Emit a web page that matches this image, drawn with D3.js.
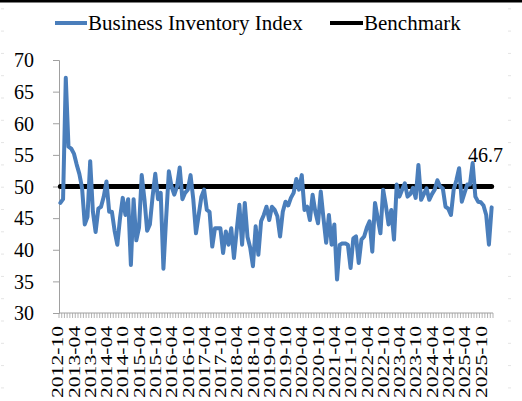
<!DOCTYPE html>
<html lang="en">
<head>
<meta charset="utf-8">
<script src="https://cdn.jsdelivr.net/npm/d3@7"></script>
<style>
  body { margin: 0; background: #fff; }
  svg text { font-family: "Liberation Serif", "Times New Roman", serif; fill: #000; }
</style>
</head>
<body>
<div id="graph"></div>
<script>
// monthly categories, 2012-10 .. 2026-01
var startYear = 2012, startMonth = 10, nMonths = 160;
var months = d3.range(nMonths).map(function (i) {
  var m = startMonth - 1 + i;
  return (startYear + Math.floor(m / 12)) + "-" + String(m % 12 + 1).padStart(2, "0");
});

var tickLabels = ["2012-10","2013-04","2013-10","2014-04","2014-10","2015-04","2015-10",
  "2016-04","2016-10","2017-04","2017-10","2018-04","2018-10","2019-04","2019-10",
  "2020-04","2020-10","2021-04","2021-10","2022-04","2022-10","2023-04","2023-10",
  "2024-04","2024-10","2025-04","2025-10"];

var inventory = [
  47.4, 48.0, 67.2, 56.3, 56.0, 55.2, 53.5, 52.0, 49.8, 44.0,
  45.2, 54.0, 46.0, 42.8, 46.5, 46.8, 48.4, 50.8, 46.0, 46.0,
  43.0, 40.8, 45.0, 48.2, 45.5, 48.0, 37.6, 48.0, 41.5, 43.5,
  51.8, 48.0, 43.0, 44.0, 48.4, 52.0, 48.0, 49.0, 37.0, 45.0,
  52.4, 50.0, 48.7, 50.0, 53.0, 48.0, 49.0, 49.5, 51.8, 48.0,
  42.6, 45.5, 48.4, 49.5, 46.3, 46.0, 40.5, 43.4, 43.4, 43.4,
  39.5, 42.9, 40.8, 43.4, 38.7, 43.0, 47.1, 40.8, 47.4, 42.0,
  40.3, 37.4, 43.7, 39.2, 44.5, 45.5, 46.8, 44.7, 46.8, 46.3,
  45.3, 42.1, 46.0, 47.6, 47.0, 48.2, 49.0, 51.2, 49.5, 51.8,
  46.3, 46.8, 44.7, 48.7, 46.0, 44.2, 49.2, 45.0, 41.1, 45.5,
  40.8, 44.0, 35.3, 40.8, 41.0, 41.0, 40.8, 37.1, 41.8, 42.1,
  37.9, 41.6, 42.1, 43.5, 44.5, 39.7, 47.4, 45.0, 42.6, 49.5,
  47.0, 44.0, 46.3, 41.6, 50.3, 48.4, 49.5, 50.5, 48.4, 48.8,
  49.8, 48.2, 53.4, 47.9, 48.8, 49.7, 47.9, 48.8, 49.5, 51.0,
  50.0, 49.7, 46.8, 46.5, 45.5, 49.5, 51.0, 52.9, 47.6, 49.0,
  50.3, 50.3, 53.7, 48.4, 47.6, 47.5, 47.0, 45.5, 40.8, 46.7
];

var benchmark = 50;
var yTicks = [30, 35, 40, 45, 50, 55, 60, 65, 70];
var seriesNames = ["Business Inventory Index", "Benchmark"];

var W = 522, H = 401;
var plotLeft = 59, plotRight = 493, plotTop = 60, plotBottom = 313;

var svg = d3.select("#graph").append("svg")
  .attr("width", W).attr("height", H);

// frame edge at top
svg.append("rect").attr("x", 0).attr("y", 0).attr("width", W).attr("height", 2.5).attr("fill", "#000");

// faint edge marks
d3.range(8.3, H, 22.3).forEach(function (yy) {
  svg.append("rect").attr("x", 1).attr("y", yy).attr("width", 3).attr("height", 1).attr("fill", "#e4e4e4");
  svg.append("rect").attr("x", 508).attr("y", yy).attr("width", 3).attr("height", 1).attr("fill", "#e4e4e4");
});

var x = d3.scaleBand().domain(months).range([plotLeft, plotRight]).padding(0);
var y = d3.scaleLinear().domain([30, 70]).range([plotBottom, plotTop]);
var cx = function (m) { return x(m) + x.bandwidth() / 2; };

// Y axis
var yAxis = svg.append("g").attr("transform", "translate(" + plotLeft + ",0)")
  .call(d3.axisLeft(y).tickValues(yTicks).tickSize(6).tickPadding(19));
yAxis.select(".domain").attr("stroke", "#a0a0a0");
yAxis.selectAll(".tick line").attr("stroke", "#a0a0a0");
yAxis.selectAll(".tick text").attr("font-size", "20px").attr("font-family", "Liberation Serif").attr("dy", "0.34em");

// X axis: line + a tick at each category boundary
svg.append("line").attr("x1", plotLeft).attr("x2", plotRight).attr("y1", plotBottom).attr("y2", plotBottom)
  .attr("stroke", "#a0a0a0");
svg.append("g").selectAll("line")
  .data(months.concat(["end"]))
  .enter().append("line")
    .attr("x1", function (d) { return d === "end" ? plotRight : x(d); })
    .attr("x2", function (d) { return d === "end" ? plotRight : x(d); })
    .attr("y1", plotBottom).attr("y2", plotBottom + 5)
    .attr("stroke", "#a0a0a0").attr("stroke-width", 0.8);

svg.append("g").selectAll("text")
  .data(tickLabels)
  .enter().append("text")
    .attr("transform", function (d) { return "translate(" + (cx(d) + 3) + "," + (plotBottom + 13) + ") rotate(-90)"; })
    .attr("text-anchor", "end")
    .attr("font-size", "16px")
    .attr("textLength", 72)
    .attr("lengthAdjust", "spacingAndGlyphs")
    .text(function (d) { return d; });

// benchmark line
svg.append("line")
  .attr("x1", cx(months[0])).attr("x2", cx(months[nMonths - 1]))
  .attr("y1", y(benchmark)).attr("y2", y(benchmark))
  .attr("stroke", "#000").attr("stroke-width", 5).attr("stroke-linecap", "round");

// inventory series
var line = d3.line()
  .x(function (d, i) { return cx(months[i]); })
  .y(function (d) { return y(d); });
svg.append("path")
  .datum(inventory)
  .attr("fill", "none")
  .attr("stroke", "#4a7ebb")
  .attr("stroke-width", 4)
  .attr("stroke-linejoin", "round")
  .attr("stroke-linecap", "round")
  .attr("d", line);

// last value label
svg.append("text")
  .attr("x", 503).attr("y", 162)
  .attr("text-anchor", "end")
  .attr("font-size", "20px")
  .text(inventory[nMonths - 1].toFixed(1));

// legend
var legend = svg.append("g");
legend.append("line").attr("x1", 55).attr("x2", 87).attr("y1", 23).attr("y2", 23)
  .attr("stroke", "#4a7ebb").attr("stroke-width", 4);
legend.append("text").attr("x", 88).attr("y", 30).attr("font-size", "21px").text(seriesNames[0]);
legend.append("line").attr("x1", 330).attr("x2", 363).attr("y1", 23).attr("y2", 23)
  .attr("stroke", "#000").attr("stroke-width", 4);
legend.append("text").attr("x", 364).attr("y", 30).attr("font-size", "21px").text(seriesNames[1]);
</script>
</body>
</html>
